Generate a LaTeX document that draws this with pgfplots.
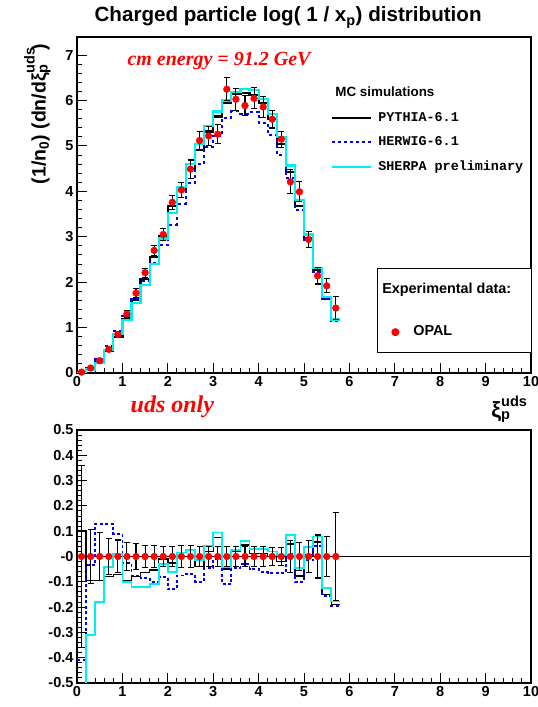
\documentclass[border=0pt]{standalone}
\usepackage{pgfplots}
\pgfplotsset{compat=1.18}
\usepackage{pgfplotstable}
\usepackage{fontspec}
\setmainfont{Liberation Sans}
\setmonofont{Liberation Mono}
\newfontfamily\timesfont{Liberation Serif}

\definecolor{rcyan}{RGB}{0,240,240}

% MC histograms, bin left edges (last row closes the last bin)
\pgfplotstableread{
x   P     H     S
0.0 0.022 0.012 0.008
0.2 0.100 0.106 0.076
0.4 0.245 0.305 0.220
0.6 0.478 0.588 0.500
0.8 0.790 0.927 0.860
1.0 1.178 1.260 1.170
1.2 1.620 1.630 1.550
1.4 2.070 2.020 1.940
1.6 2.550 2.430 2.400
1.8 3.020 2.810 2.960
2.0 3.670 3.270 3.530
2.2 4.030 3.730 4.090
2.4 4.490 4.180 4.610
2.6 4.920 4.610 5.050
2.8 5.320 4.980 5.440
3.0 5.650 5.230 5.760
3.2 5.940 5.620 6.000
3.4 6.150 5.760 6.190
3.6 6.160 5.710 6.260
3.8 6.130 5.750 6.230
4.0 5.940 5.510 6.030
4.2 5.590 5.240 5.700
4.4 5.050 4.810 5.190
4.6 4.420 4.300 4.570
4.8 3.680 3.590 3.810
5.0 2.960 2.900 3.050
5.2 2.260 2.230 2.310
5.4 1.630 1.620 1.680
5.6 1.160 1.150 1.180
5.8 1.160 1.150 1.180
}\mcsim

% OPAL data: value, error, relative error
\pgfplotstableread{
x   d    e     rel   z
0.1 0.02 0.007 0.360 0
0.3 0.11 0.012 0.105 0
0.5 0.27 0.026 0.095 0
0.7 0.52 0.036 0.070 0
0.9 0.85 0.055 0.065 0
1.1 1.30 0.073 0.056 0
1.3 1.76 0.092 0.052 0
1.5 2.21 0.097 0.044 0
1.7 2.70 0.116 0.043 0
1.9 3.05 0.125 0.041 0
2.1 3.76 0.150 0.040 0
2.3 4.03 0.170 0.042 0
2.5 4.49 0.200 0.045 0
2.7 5.12 0.205 0.040 0
2.9 5.22 0.210 0.040 0
3.1 5.26 0.210 0.040 0
3.3 6.25 0.250 0.040 0
3.5 6.03 0.240 0.040 0
3.7 5.89 0.225 0.038 0
3.9 6.05 0.230 0.038 0
4.1 5.86 0.235 0.040 0
4.3 5.59 0.195 0.035 0
4.5 5.15 0.175 0.034 0
4.7 4.21 0.265 0.063 0
4.9 3.99 0.220 0.055 0
5.1 2.94 0.180 0.062 0
5.3 2.14 0.180 0.085 0
5.5 1.92 0.155 0.080 0
5.7 1.43 0.250 0.175 0
}\opal

% (MC - data)/data
\pgfplotstableread{
x   rP     rH     rS
0.0  0.100 -0.410 -0.800
0.2 -0.094 -0.035 -0.310
0.4 -0.094  0.130 -0.180
0.6 -0.080  0.130 -0.040
0.8 -0.070  0.090  0.010
1.0 -0.094 -0.025 -0.100
1.2 -0.080 -0.075 -0.120
1.4 -0.063 -0.085 -0.120
1.6 -0.054 -0.100 -0.110
1.8 -0.010 -0.080 -0.030
2.0 -0.025 -0.130 -0.060
2.2  0.000 -0.075  0.016
2.4  0.000 -0.070  0.026
2.6 -0.040 -0.100 -0.013
2.8  0.020 -0.046  0.042
3.0  0.075 -0.010  0.095
3.2 -0.050 -0.110 -0.040
3.4  0.020 -0.045  0.026
3.6  0.046 -0.030  0.062
3.8  0.013 -0.050  0.029
4.0  0.013 -0.060  0.029
4.2  0.000 -0.066  0.020
4.4 -0.020 -0.066  0.007
4.6  0.050  0.010  0.086
4.8 -0.077 -0.100 -0.045
5.0  0.007 -0.015  0.036
5.2  0.058  0.043  0.079
5.4 -0.150 -0.156 -0.126
5.6 -0.190 -0.196 -0.178
5.8 -0.190 -0.196 -0.178
}\ratios

% xi with stacked p / uds, as ROOT sets it
\newcommand\xip{ξ\rlap{\raisebox{11pt}{\fontsize{14.5}{17}\selectfont uds}}\raisebox{-2pt}{\fontsize{14.5}{17}\selectfont p}\hspace*{14pt}}

\pgfplotsset{
  rootframe/.style={
    scale only axis, width=454pt,
    xmin=0, xmax=10, xtick={0,1,...,10},
    minor x tick num=4, minor y tick num=4,
    tick align=inside, xtick pos=bottom, ytick pos=left,
    major tick length=10pt, minor tick length=5pt,
    axis line style={line width=1.2pt},
    tick style={black, line width=1pt},
    tick label style={font=\fontsize{14.5}{17}\selectfont\bfseries},
    /pgf/number format/assume math mode=true,
    clip mode=individual,
  },
  databars/.style={only marks, mark=*, mark size=3.4pt, red,
    error bars/y dir=both, error bars/y explicit,
    error bars/error bar style={black, line width=1.1pt},
    error bars/error mark options={rotate=90, black, mark size=3pt, line width=1.1pt}},
}

\begin{document}
\begin{tikzpicture}
\useasboundingbox (0pt,0pt) rectangle (538pt,707pt);

\begin{axis}[rootframe,
  at={(77pt,334pt)}, anchor=south west, height=336pt,
  ymin=0, ymax=7.4, ytick={0,1,...,7},
  title={Charged particle log( 1 / x\textsubscript{p}) distribution},
  title style={font=\fontsize{20.6}{24}\selectfont\bfseries, at={(0.465,1.040)}, anchor=center},
  ylabel={(1/n\textsubscript{0}) (dn/d\xip)},
  ylabel style={font=\fontsize{19.5}{23}\selectfont\bfseries, at={(-0.087,0.771)}, anchor=center},
  xlabel={\xip},
  xlabel style={font=\fontsize{22}{26}\selectfont\bfseries, at={(0.905,-0.131)}, anchor=base west},
  legend style={at={(0.5595,0.852)}, anchor=north west, draw=none, fill=none,
    inner sep=0pt, row sep=11.5pt, column sep=6pt, cells={anchor=base west},
    nodes={inner sep=0pt, text height=10pt, text depth=3pt},
    font=\fontsize{13.4}{16}\selectfont\ttfamily\bfseries},
  legend image code/.code={\draw[#1] (0pt,3.6pt) -- (39pt,3.6pt);},
]
\addlegendimage{empty legend}
\addlegendentry{\hspace*{-43pt}{\rmfamily\bfseries MC simulations}}
\addplot[const plot, black, line width=2.2pt] table[x=x, y=P] {\mcsim};
\addlegendentry{PYTHIA-6.1}
\addplot[const plot, blue, line width=2pt, dash pattern=on 3pt off 3pt] table[x=x, y=H] {\mcsim};
\addlegendentry{HERWIG-6.1}
\addplot[const plot, rcyan, line width=2.2pt] table[x=x, y=S] {\mcsim};
\addlegendentry{SHERPA preliminary}
\addplot[forget plot, databars] table[x=x, y=d, y error=e] {\opal};
\node[anchor=base, text=red, font=\timesfont\bfseries\itshape\fontsize{20}{24}\selectfont]
  at (rel axis cs:0.3128,0.915) {cm energy = 91.2 GeV};
\end{axis}

\begin{axis}[rootframe,
  at={(77pt,24pt)}, anchor=south west, height=253pt,
  ymin=-0.5, ymax=0.5,
  ytick={-0.5,-0.4,-0.3,-0.2,-0.1,0,0.1,0.2,0.3,0.4,0.5},
  yticklabels={-0.5,-0.4,-0.3,-0.2,-0.1,-0,0.1,0.2,0.3,0.4,0.5},
  legend style={at={(0.6608,1.6403)}, anchor=north west, draw=black, line width=1.2pt,
    fill=white, inner xsep=14pt, inner ysep=14.3pt, row sep=27.7pt, column sep=14.5pt,
    cells={anchor=base west}, nodes={inner sep=0pt, text height=11pt, text depth=3pt},
    font=\fontsize{14.4}{17}\selectfont\bfseries},
  legend image code/.code={\draw[#1] plot coordinates {(3.8pt,3.4pt)};},
]
\addlegendimage{empty legend}
\addlegendentry{\hspace*{-31pt}Experimental data:\hspace*{6pt}}
\addplot[black, line width=1.2pt, forget plot] coordinates {(0,0) (10,0)};
\addplot[const plot, black, line width=1.4pt, forget plot] table[x=x, y=rP] {\ratios};
\addplot[const plot, blue, line width=1.8pt, dash pattern=on 3pt off 2.5pt, forget plot] table[x=x, y=rH] {\ratios};
\addplot[const plot, rcyan, line width=1.8pt, forget plot] table[x=x, y=rS] {\ratios};
\addplot[databars] table[x=x, y=z, y error=rel] {\opal};
\addlegendentry{OPAL}
\node[anchor=base, text=red, font=\timesfont\bfseries\itshape\fontsize{24}{28}\selectfont]
  at (rel axis cs:0.21,1.071) {uds only};
\end{axis}
\end{tikzpicture}
\end{document}
